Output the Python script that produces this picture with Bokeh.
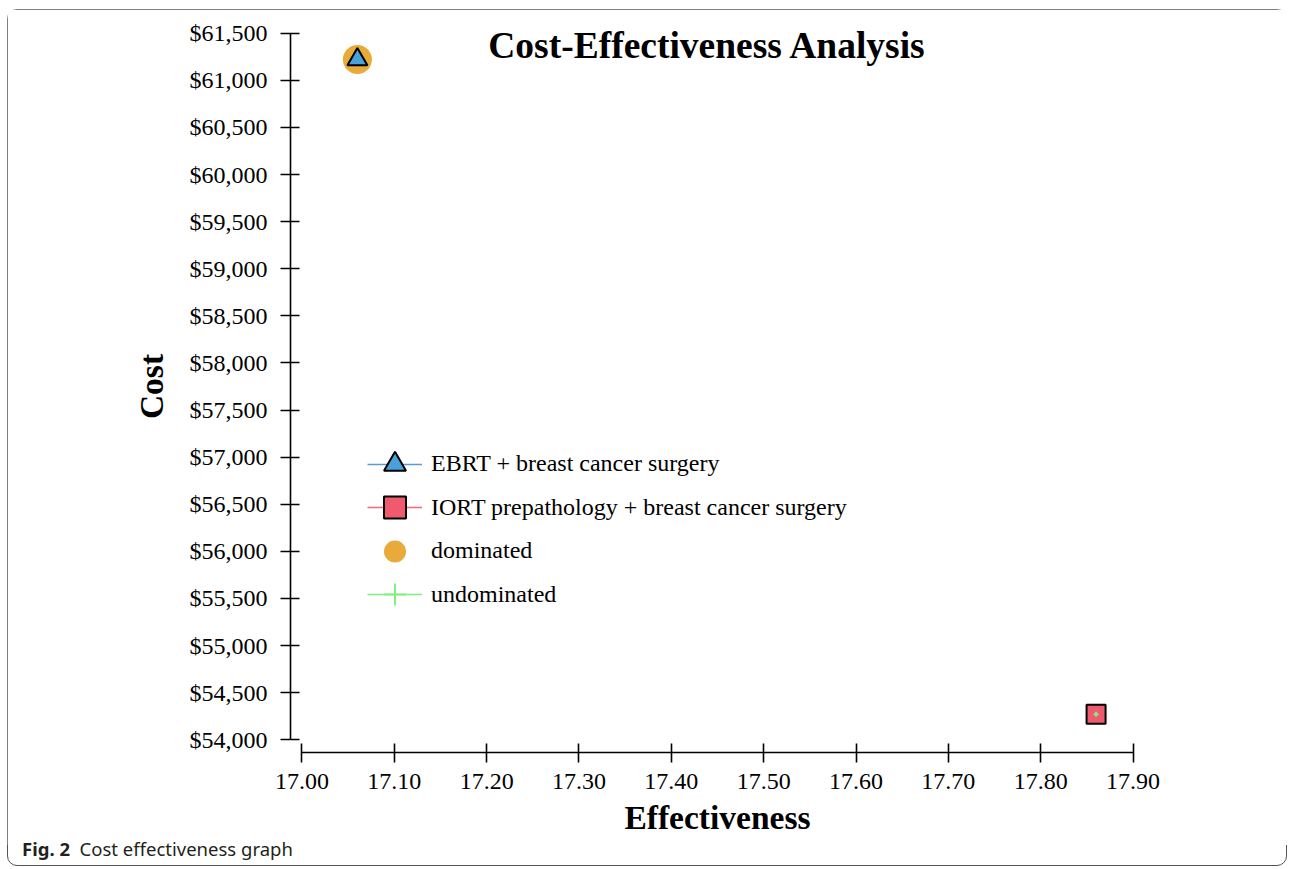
from bokeh.plotting import figure
from bokeh.models import (FixedTicker, NumeralTickFormatter, Range1d, Legend,
                          LegendItem, Label, Div, Spacer)
from bokeh.layouts import column, row
from bokeh.embed import file_html
from bokeh.resources import INLINE

# ---------------- data ----------------
strategies = ["EBRT + breast cancer surgery",
              "IORT prepathology + breast cancer surgery"]
effectiveness = [17.06, 17.86]
cost = [61220, 54270]

dominated_eff = [17.06]
dominated_cost = [61220]
undominated_eff = [17.86]
undominated_cost = [54270]

x_ticks = [17.00, 17.10, 17.20, 17.30, 17.40, 17.50, 17.60, 17.70, 17.80, 17.90]
y_ticks = [54000, 54500, 55000, 55500, 56000, 56500, 57000, 57500,
           58000, 58500, 59000, 59500, 60000, 60500, 61000, 61500]

title_text = "Cost-Effectiveness Analysis"
x_label = "Effectiveness"
y_label = "Cost"
caption_bold = "Fig. 2"
caption_text = "Cost effectiveness graph"

# ---------------- styling ----------------
SERIF = "Liberation Serif"
SANS = "Noto Sans"
BLUE = "#4aa0d8"
BLUE_LINE = "#5b9bd5"
RED = "#f05a6e"
RED_LINE = "#f06a7a"
ORANGE = "#e8aa38"
GREEN = "#80f080"

x_pad = 0.01245
y_pad = 135

P_W, P_H = 1280, 836
CAP_H = 21
p = figure(width=P_W, height=P_H, output_backend="svg", toolbar_location=None,
           x_range=Range1d(x_ticks[0] - x_pad, x_ticks[-1] + x_pad),
           y_range=Range1d(y_ticks[0] - y_pad, y_ticks[-1] + y_pad),
           min_border_left=283, min_border_right=143,
           min_border_top=11, min_border_bottom=93)
p.outline_line_color = None
p.grid.visible = False
p.background_fill_color = "white"
p.border_fill_color = "white"

p.xaxis.ticker = FixedTicker(ticks=x_ticks, minor_ticks=[])
p.yaxis.ticker = FixedTicker(ticks=y_ticks, minor_ticks=[])
p.xaxis.formatter = NumeralTickFormatter(format="0.00")
p.yaxis.formatter = NumeralTickFormatter(format="$0,0")
p.xaxis.bounds = (x_ticks[0], x_ticks[-1])
p.yaxis.bounds = (y_ticks[0], y_ticks[-1])
for ax in (p.xaxis, p.yaxis):
    ax.axis_line_color = "black"
    ax.axis_line_width = 1.6
    ax.major_tick_line_color = "black"
    ax.major_tick_line_width = 1.6
    ax.major_tick_in = 9
    ax.major_tick_out = 10
    ax.minor_tick_line_color = None
    ax.major_label_text_font = SERIF
    ax.major_label_text_font_size = "24px"
    ax.major_label_text_color = "black"
    ax.axis_label_text_font = SERIF
    ax.axis_label_text_font_size = "33.5px"
    ax.axis_label_text_font_style = "bold"
    ax.axis_label_text_color = "black"
p.xaxis.major_label_standoff = 11
p.yaxis.major_label_standoff = 13
p.xaxis.axis_label = x_label
p.yaxis.axis_label = y_label
p.xaxis.axis_label_standoff = 7
p.yaxis.axis_label_standoff = 17

# ---------------- marks ----------------
r_dom = p.scatter(dominated_eff, dominated_cost, marker="circle", size=29,
                  fill_color=ORANGE, line_color=None)

r_line1 = p.line([effectiveness[0]], [cost[0]], line_color=BLUE_LINE, line_width=1.5)
r_tri = p.scatter([effectiveness[0]], [cost[0]], marker="triangle", size=20,
                  fill_color=BLUE, line_color="black", line_width=2)

r_line2 = p.line([effectiveness[1]], [cost[1]], line_color=RED_LINE, line_width=1.5)
r_sq = p.scatter([effectiveness[1]], [cost[1]], marker="square", size=19,
                 fill_color=RED, line_color="black", line_width=2)

r_line3 = p.line(undominated_eff, undominated_cost, line_color=GREEN, line_width=1.5)
r_und = p.scatter(undominated_eff, undominated_cost, marker="cross", size=5,
                  line_color=GREEN, line_width=2)

# one legend per row so that rows can sit closer than the glyph box height
legend_rows = [
    (strategies[0], [r_line1, r_tri], 259.5),
    (strategies[1], [r_line2, r_sq], 216),
    ("dominated", [r_dom], 172.5),
    ("undominated", [r_line3, r_und], 129),
]
for label, rends, ybot in legend_rows:
    lg = Legend(items=[LegendItem(label=label, renderers=rends)],
                location=(77, ybot), orientation="vertical")
    lg.glyph_width = 55
    lg.glyph_height = 58
    lg.padding = 0
    lg.margin = 0
    lg.spacing = 0
    lg.label_standoff = 9
    lg.label_text_font = SERIF
    lg.label_text_font_size = "24px"
    lg.label_text_color = "black"
    lg.border_line_color = None
    lg.background_fill_alpha = 0
    p.add_layout(lg)

p.add_layout(Label(x=417, y=707, x_units="screen", y_units="screen",
                   text=title_text, text_font=SERIF, text_font_size="37.5px",
                   text_font_style="bold", text_align="center",
                   text_baseline="middle", text_color="black"))

caption = Div(
    text=(f'<span style="position:relative; top:-6px;">'
          f'<b>{caption_bold}</b>&nbsp; {caption_text}</span>'),
    width=P_W, height=CAP_H,
    styles={"font-family": SANS, "font-size": "18.5px", "line-height": "9px",
            "color": "#231f20", "padding-left": "10px", "overflow": "visible"})

inner = column(p, caption, spacing=0, width=P_W, height=P_H + CAP_H,
               sizing_mode="fixed",
               styles={"outline": "1.5px solid #555555", "outline-offset": "-1px",
                       "border-radius": "10px"})
layout = row(Spacer(width=7), column(Spacer(height=9), inner, spacing=0), spacing=0)

open("out.html", "w").write(file_html(layout, INLINE))
